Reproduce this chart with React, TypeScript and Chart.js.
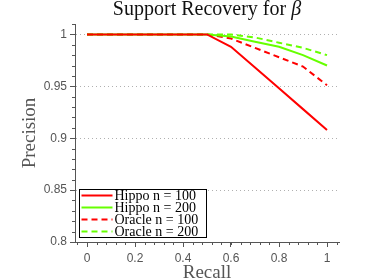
import React, { useEffect, useRef } from 'react';
import { Chart, registerables } from 'chart.js';

Chart.register(...registerables);

const recall = [0, 0.1, 0.2, 0.3, 0.4, 0.5, 0.6, 0.7, 0.8, 0.9, 1.0];
const hippo100 = [1, 1, 1, 1, 1, 1, 0.988, 0.968, 0.948, 0.928, 0.908];
const hippo200 = [1, 1, 1, 1, 1, 1, 0.998, 0.993, 0.988, 0.980, 0.970];
const oracle100 = [1, 1, 1, 1, 1, 1, 0.996, 0.987, 0.978, 0.969, 0.951];
const oracle200 = [1, 1, 1, 1, 1, 1, 1.0, 0.997, 0.992, 0.987, 0.980];

const seriesLabels = ['Hippo n = 100', 'Hippo n = 200', 'Oracle n = 100', 'Oracle n = 200'];
const xTicks = [0, 0.2, 0.4, 0.6, 0.8, 1];
const yTicks = [0.8, 0.85, 0.9, 0.95, 1];
const xMinorStep = 0.04;
const yMinorStep = 0.01;

const RED = '#ff0000';
const GREEN = '#66ff00';
const AXIS = '#555555';
const SERIF = '"Liberation Serif", serif';

const titlePlugin = {
  id: 'mtitle',
  afterDraw(chart: any) {
    const ctx = chart.ctx;
    ctx.save();
    const a = 'Support Recovery for ';
    const b = '\u03b2';
    ctx.font = `20px ${SERIF}`;
    const wa = ctx.measureText(a).width;
    ctx.font = `italic 20px ${SERIF}`;
    const wb = ctx.measureText(b).width;
    const cx = (chart.chartArea.left + chart.chartArea.right) / 2;
    const x0 = cx - (wa + wb) / 2;
    ctx.fillStyle = '#111';
    ctx.textBaseline = 'alphabetic';
    ctx.textAlign = 'left';
    ctx.font = `20px ${SERIF}`;
    ctx.fillText(a, x0, 15);
    ctx.font = `italic 20px ${SERIF}`;
    ctx.fillText(b, x0 + wa, 15);
    ctx.restore();
  },
};

const minorTicksPlugin = {
  id: 'minorTicks',
  afterDraw(chart: any) {
    const ctx = chart.ctx;
    const xs = chart.scales.x;
    const ys = chart.scales.y;
    const { left, bottom } = chart.chartArea;
    ctx.save();
    ctx.strokeStyle = AXIS;
    ctx.lineWidth = 1;
    ctx.beginPath();
    for (let i = -1; i <= 26; i++) {
      const v = i * xMinorStep;
      if (v < xs.min || v > xs.max) continue;
      const px = Math.round(xs.getPixelForValue(v)) + 0.5;
      ctx.moveTo(px, bottom);
      ctx.lineTo(px, bottom + 3);
    }
    for (let i = 0; i <= 21; i++) {
      const v = 0.8 + i * yMinorStep;
      if (v < ys.min - 1e-9 || v > ys.max + 1e-9) continue;
      const py = Math.round(ys.getPixelForValue(v)) + 0.5;
      ctx.moveTo(left, py);
      ctx.lineTo(left - 3, py);
    }
    ctx.stroke();
    ctx.restore();
  },
};

const legendPlugin = {
  id: 'boxLegend',
  afterDraw(chart: any) {
    const ctx = chart.ctx;
    const x0 = 79.5, y0 = 189.5, w = 127, h = 48;
    ctx.save();
    ctx.fillStyle = '#ffffff';
    ctx.fillRect(x0, y0, w, h);
    ctx.strokeStyle = '#000000';
    ctx.lineWidth = 1;
    ctx.strokeRect(x0, y0, w, h);
    ctx.font = `14px ${SERIF}`;
    ctx.textBaseline = 'middle';
    ctx.textAlign = 'left';
    chart.data.datasets.forEach((ds: any, i: number) => {
      const y = y0 + 6 + i * 12;
      ctx.strokeStyle = ds.borderColor;
      ctx.lineWidth = ds.borderWidth;
      ctx.setLineDash(ds.borderDash || []);
      ctx.beginPath();
      ctx.moveTo(x0 + 2, y);
      ctx.lineTo(x0 + 33, y);
      ctx.stroke();
      ctx.setLineDash([]);
      ctx.fillStyle = '#000';
      ctx.fillText(ds.label, x0 + 35, y + 0.5);
    });
    ctx.restore();
  },
};

export default function App() {
  const ref = useRef<HTMLCanvasElement>(null);
  useEffect(() => {
    if (!ref.current) return;
    const mk = (label: string, data: number[], color: string, dash: number[]) => ({
      label,
      data: recall.map((r, i) => ({ x: r, y: data[i] })),
      borderColor: color,
      backgroundColor: color,
      borderWidth: 2,
      borderDash: dash,
      pointRadius: 0,
      fill: false,
      tension: 0,
    });
    const chart = new Chart(ref.current, {
      type: 'line',
      data: {
        datasets: [
          mk(seriesLabels[0], hippo100, RED, []),
          mk(seriesLabels[1], hippo200, GREEN, []),
          mk(seriesLabels[2], oracle100, RED, [6, 4]),
          mk(seriesLabels[3], oracle200, GREEN, [6, 4]),
        ],
      },
      options: {
        animation: false,
        responsive: false,
        layout: { padding: { top: 24, right: 35, left: 0, bottom: 0 } },
        plugins: {
          legend: { display: false },
          title: { display: false },
          tooltip: { enabled: false },
        },
        scales: {
          x: {
            type: 'linear',
            min: -0.05,
            max: 1.05,
            afterFit: (s: any) => { s.height = 38; },
            afterBuildTicks: (s: any) => { s.ticks = xTicks.map((v) => ({ value: v })); },
            ticks: {
              color: AXIS,
              font: { family: '"Liberation Sans", Arial, sans-serif', size: 12 },
              padding: 4,
              maxRotation: 0,
              callback: (v: any) => String(Math.round(Number(v) * 100) / 100),
            },
            grid: {
              display: true,
              drawOnChartArea: false,
              drawTicks: true,
              tickLength: 5,
              tickColor: AXIS,
            },
            border: { display: true, color: AXIS, width: 1 },
            title: {
              display: true,
              text: 'Recall',
              color: AXIS,
              font: { family: SERIF, size: 19, lineHeight: 0.75 },
              padding: { top: 0, bottom: 0 },
            },
          },
          y: {
            type: 'linear',
            min: 0.8,
            max: 1.01,
            afterFit: (s: any) => { s.width = 75; },
            afterBuildTicks: (s: any) => { s.ticks = yTicks.map((v) => ({ value: v })); },
            ticks: {
              color: AXIS,
              font: { family: '"Liberation Sans", Arial, sans-serif', size: 12 },
              padding: 3,
              callback: (v: any) => String(Math.round(Number(v) * 100) / 100),
            },
            grid: {
              display: true,
              drawOnChartArea: true,
              drawTicks: true,
              tickLength: 5,
              tickColor: AXIS,
              color: '#b0b0b0',
              lineWidth: 1,
              tickBorderDash: [],
            },
            border: { display: true, color: AXIS, width: 1, dash: [1, 3] },
            title: {
              display: true,
              text: 'Precision',
              color: AXIS,
              font: { family: SERIF, size: 19, lineHeight: 1 },
              padding: { top: 21, bottom: 0 },
            },
          },
        },
      } as any,
      plugins: [titlePlugin, minorTicksPlugin, legendPlugin],
    });
    return () => chart.destroy();
  }, []);
  return (
    <div style={{ position: 'fixed', left: 0, top: 0, width: 374, height: 280, background: '#fff' }}>
      <canvas ref={ref} width={374} height={280} style={{ width: 374, height: 280, display: 'block' }} />
    </div>
  );
}
